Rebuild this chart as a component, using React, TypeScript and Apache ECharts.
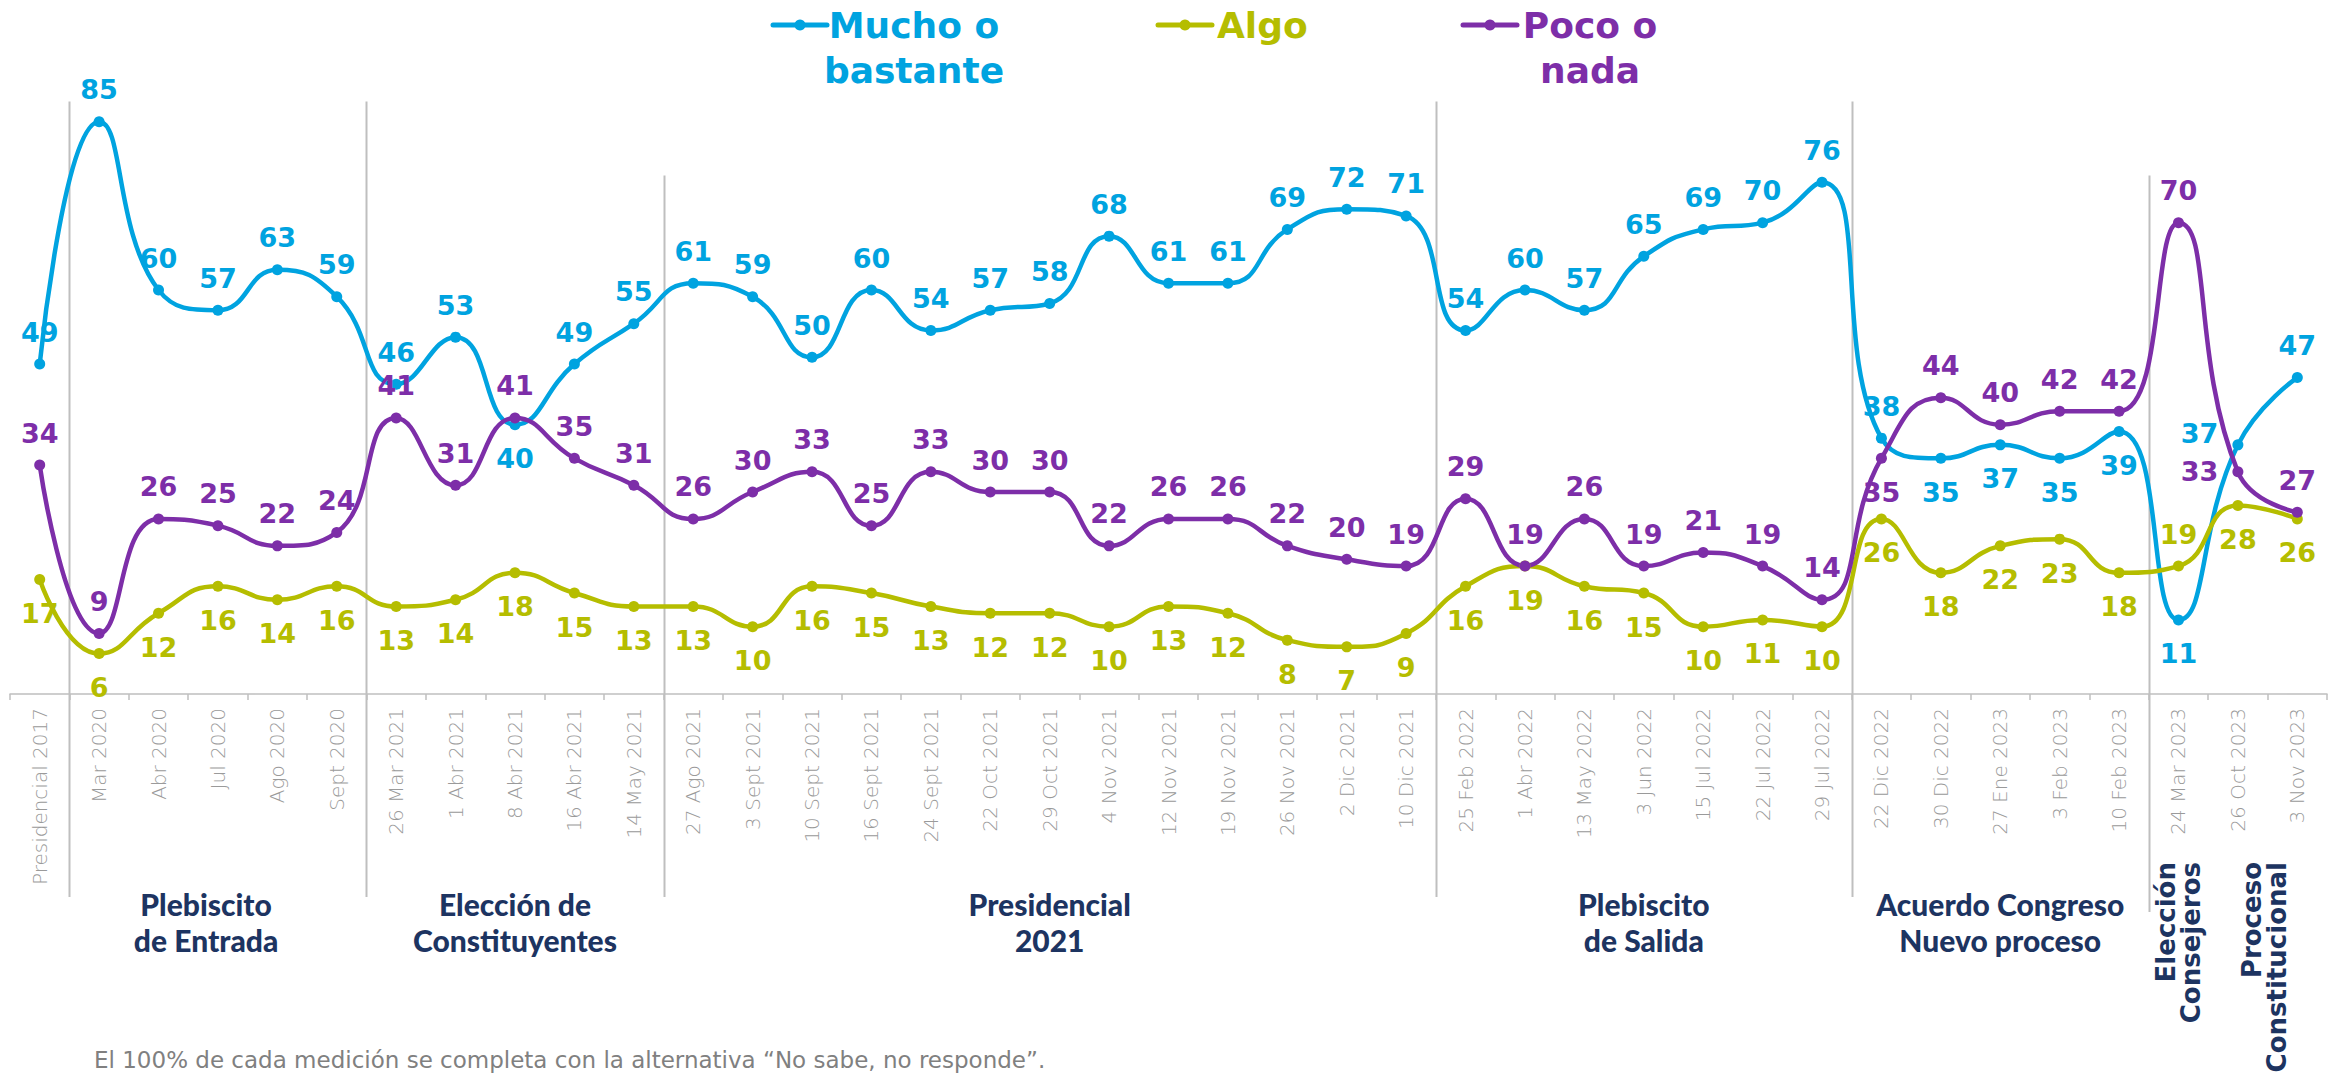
import React, { useEffect, useRef } from "react";
import * as echarts from "echarts";

const categories = [
  "Presidencial 2017", "Mar 2020", "Abr 2020", "Jul 2020", "Ago 2020", "Sept 2020",
  "26 Mar 2021", "1 Abr 2021", "8 Abr 2021", "16 Abr 2021", "14 May 2021",
  "27 Ago 2021", "3 Sept 2021", "10 Sept 2021", "16 Sept 2021", "24 Sept 2021",
  "22 Oct 2021", "29 Oct 2021", "4 Nov 2021", "12 Nov 2021", "19 Nov 2021",
  "26 Nov 2021", "2 Dic 2021", "10 Dic 2021",
  "25 Feb 2022", "1 Abr 2022", "13 May 2022", "3 Jun 2022", "15 Jul 2022", "22 Jul 2022", "29 Jul 2022",
  "22 Dic 2022", "30 Dic 2022", "27 Ene 2023", "3 Feb 2023", "10 Feb 2023",
  "24 Mar 2023", "26 Oct 2023", "3 Nov 2023",
];

const muchoValues = [
  49, 85, 60, 57, 63, 59, 46, 53, 40, 49, 55, 61, 59, 50, 60, 54, 57, 58, 68, 61,
  61, 69, 72, 71, 54, 60, 57, 65, 69, 70, 76, 38, 35, 37, 35, 39, 11, 37, 47,
];
const algoValues = [
  17, 6, 12, 16, 14, 16, 13, 14, 18, 15, 13, 13, 10, 16, 15, 13, 12, 12, 10, 13,
  12, 8, 7, 9, 16, 19, 16, 15, 10, 11, 10, 26, 18, 22, 23, 18, 19, 28, 26,
];
const pocoValues = [
  34, 9, 26, 25, 22, 24, 41, 31, 41, 35, 31, 26, 30, 33, 25, 33, 30, 30, 22, 26,
  26, 22, 20, 19, 29, 19, 26, 19, 21, 19, 14, 35, 44, 40, 42, 42, 70, 33, 27,
];

const seriesNames = ["Mucho o bastante", "Algo", "Poco o nada"];
const legendLabels = ["Mucho o\nbastante", "Algo", "Poco o\nnada"];
const seriesColors = ["#00A3E0", "#B5BD00", "#7D2EA8"];

// label placement: default per series, with exceptions by category index
const defaultLabelPos = ["top", "bottom", "top"];
const muchoLabelExceptions: Record<number, string> = { 8: "bottom", 32: "bottom", 33: "bottom", 34: "bottom", 35: "bottom", 36: "bottom", 37: "left" };
const algoLabelExceptions: Record<number, string> = { 36: "top" };
const pocoLabelExceptions: Record<number, string> = { 31: "bottom", 37: "left" };

// period groups
const separatorAfter = [0, 5, 10, 23, 30, 35];
const separatorTopValue = [88, 88, 77, 88, 88, 77];
const groupLabels = ["Plebiscito\nde Entrada", "Elección de\nConstituyentes", "Presidencial\n2021", "Plebiscito\nde Salida", "Acuerdo Congreso\nNuevo proceso"];
const groupCenters = [2.8, 8, 17, 27, 33];
const verticalGroupLabels = ["Elección\nConsejeros", "Proceso\nConstitucional"];
const verticalGroupCenters = [36, 37.45];

const footnote = "El 100% de cada medición se completa con la alternativa “No sabe, no responde”.";

const NAVY = "#1D3461";

export default function App() {
  const ref = useRef<HTMLDivElement>(null);

  useEffect(() => {
    if (!ref.current) return;
    const chart = echarts.init(ref.current, null, { renderer: "svg" });

    const labelCfg = (pos: string, s: number) => {
      if (pos === "top") return { position: "top", distance: 13 };
      if (pos === "bottom") return { position: "bottom", distance: 15 };
      const off = s === 0 ? [0, -11] : [0, 0];
      return { position: "left", distance: 14, offset: off };
    };

    const build = (vals: number[], s: number, exc: Record<number, string>) =>
      vals.map((v, i) => ({ value: v, label: labelCfg(exc[i] ?? defaultLabelPos[s], s) }));

    const allVals = [muchoValues, algoValues, pocoValues];
    const allExc = [muchoLabelExceptions, algoLabelExceptions, pocoLabelExceptions];

    chart.setOption({
      animation: false,
      grid: { left: 10, right: 9, top: 88, bottom: 380, containLabel: false },
      xAxis: {
        type: "category",
        data: categories,
        boundaryGap: true,
        axisLine: { lineStyle: { color: "#BFBFBF", width: 1.5 } },
        axisTick: { show: true, length: 6, lineStyle: { color: "#BFBFBF", width: 1.5 } },
        axisLabel: {
          interval: 0,
          rotate: 90,
          margin: 14,
          color: "#9A9A9A",
          fontSize: 20,
          fontFamily: "DejaVu Sans",
          fontWeight: 200,
        },
        splitLine: { show: false },
      },
      yAxis: { type: "value", min: 0, max: 90, show: false, splitLine: { show: false } },
      legend: { show: false },
      series: seriesNames.map((name, s) => ({
        name,
        type: "line",
        smooth: 0.5,
        symbol: "circle",
        symbolSize: 11,
        lineStyle: { width: 4.5, color: seriesColors[s] },
        itemStyle: { color: seriesColors[s] },
        label: {
          show: true,
          color: seriesColors[s],
          fontFamily: "DejaVu Sans",
          fontWeight: "bold",
          fontSize: 27,
        },
        emphasis: { disabled: true },
        data: build(allVals[s], s, allExc[s]),
      })),
    });

    const px = (i: number) => chart.convertToPixel({ xAxisIndex: 0 }, i) as number;
    const py = (v: number) => chart.convertToPixel({ yAxisIndex: 0 }, v) as number;
    const band = px(1) - px(0);
    const xAt = (c: number) => px(0) + c * band;

    const graphics: any[] = [];

    separatorAfter.forEach((idx, k) => {
      const x = Math.round(px(idx) + band / 2) + 0.5;
      graphics.push({
        type: "line",
        shape: { x1: x, y1: py(separatorTopValue[k]), x2: x, y2: k === separatorAfter.length - 1 ? 912 : 897 },
        style: { stroke: "#BFBFBF", lineWidth: 2 },
        z: 1,
      });
    });

    groupLabels.forEach((t, k) => {
      graphics.push({
        type: "text",
        x: xAt(groupCenters[k]),
        y: 922,
        style: {
          text: t,
          fill: NAVY,
          font: "900 30px Lato",
          textAlign: "center",
          textVerticalAlign: "middle",
          lineHeight: 36,
        },
      });
    });

    verticalGroupLabels.forEach((t, k) => {
      graphics.push({
        type: "text",
        x: xAt(verticalGroupCenters[k]),
        y: 862,
        rotation: Math.PI / 2,
        style: {
          text: t,
          fill: NAVY,
          font: "bold 26px 'DejaVu Sans'",
          textAlign: "right",
          textVerticalAlign: "middle",
          lineHeight: 25,
        },
      });
    });

    // legend
    const legendIconX = [773, 1158, 1463];
    const legendTextX = [914, 1217, 1590];
    const legendTextAlign = ["center", "left", "center"];
    seriesNames.forEach((_, s) => {
      const x0 = legendIconX[s];
      graphics.push({
        type: "line",
        shape: { x1: x0, y1: 25, x2: x0 + 54, y2: 25 },
        style: { stroke: seriesColors[s], lineWidth: 5, lineCap: "round" },
      });
      graphics.push({
        type: "circle",
        shape: { cx: x0 + 27, cy: 25, r: 5.5 },
        style: { fill: seriesColors[s] },
      });
      graphics.push({
        type: "text",
        x: legendTextX[s],
        y: 2.5,
        style: {
          text: legendLabels[s],
          fill: seriesColors[s],
          font: "bold 36px 'DejaVu Sans'",
          textAlign: legendTextAlign[s],
          textVerticalAlign: "top",
          lineHeight: 45,
        },
      });
    });

    graphics.push({
      type: "text",
      x: 94,
      y: 1060,
      style: {
        text: footnote,
        fill: "#808080",
        font: "23px 'DejaVu Sans'",
        textAlign: "left",
        textVerticalAlign: "middle",
      },
    });

    chart.setOption({ graphic: graphics });

    return () => chart.dispose();
  }, []);

  return (
    <div
      ref={ref}
      style={{ position: "absolute", left: 0, top: 0, width: 2336, height: 1074, background: "#fff" }}
    />
  );
}
